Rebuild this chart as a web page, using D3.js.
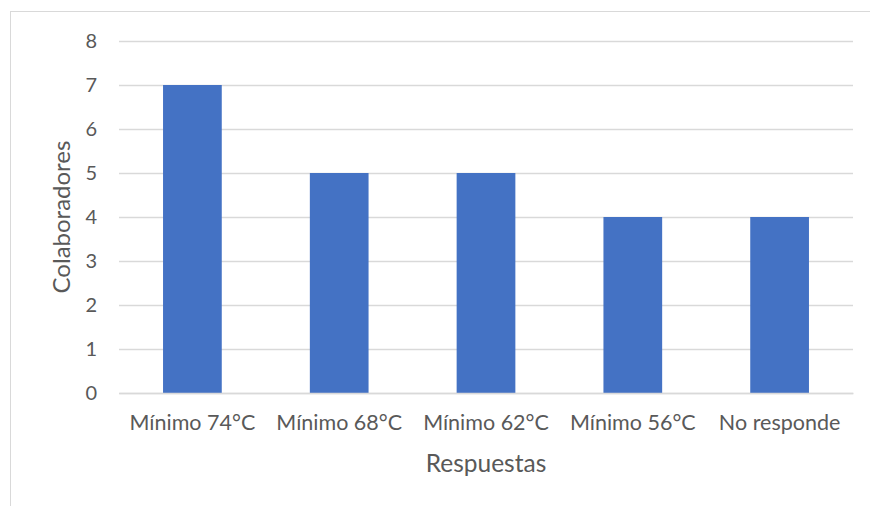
<!DOCTYPE html>
<html>
<head>
<meta charset="utf-8">
<script src="https://cdn.jsdelivr.net/npm/d3@7"></script>
<style>
  html, body { margin: 0; padding: 0; background: #fff; }
  svg { display: block; }
  text { font-family: Lato, "Open Sans", sans-serif; fill: #595959; }
</style>
</head>
<body>
<svg id="chart" width="870" height="506"></svg>
<script>
const categories = ["Mínimo 74°C", "Mínimo 68°C", "Mínimo 62°C", "Mínimo 56°C", "No responde"];
const values = [7, 5, 5, 4, 4];
const yTicks = [0, 1, 2, 3, 4, 5, 6, 7, 8];
const xTitle = "Respuestas";
const yTitle = "Colaboradores";

const svg = d3.select("#chart");
const W = 870, H = 506;
const plot = { left: 119, right: 853, top: 41, bottom: 393 };
const font = "Lato, 'Open Sans', sans-serif";

// chart frame
svg.append("rect")
  .attr("x", 10.5).attr("y", 11.5)
  .attr("width", W).attr("height", H)
  .attr("fill", "none").attr("stroke", "#d9d9d9").attr("stroke-width", 1);

const x = d3.scaleBand()
  .domain(categories)
  .range([plot.left, plot.right])
  .paddingInner(0.6)
  .paddingOuter(0.3);

const y = d3.scaleLinear()
  .domain([0, 8])
  .range([plot.bottom, plot.top]);

// gridlines + y tick labels
const yAxis = d3.axisLeft(y)
  .tickValues(yTicks)
  .tickSize(-(plot.right - plot.left))
  .tickPadding(22)
  .tickFormat(d3.format("d"));

const gy = svg.append("g")
  .attr("transform", `translate(${plot.left},0)`)
  .call(yAxis);
gy.select(".domain").remove();
gy.selectAll(".tick line").attr("stroke", "#d9d9d9").attr("stroke-width", 1.3);
gy.selectAll(".tick text")
  .attr("font-size", 20)
  .attr("fill", "#595959")
  .style("font-family", font);

// bars
svg.append("g").selectAll("rect")
  .data(values)
  .join("rect")
  .attr("x", (d, i) => x(categories[i]))
  .attr("y", d => y(d))
  .attr("width", x.bandwidth())
  .attr("height", d => y(0) - y(d))
  .attr("fill", "#4472c4");

// x axis line + labels
const xAxis = d3.axisBottom(x).tickSize(0);
const gx = svg.append("g")
  .attr("transform", `translate(0,${plot.bottom})`)
  .call(xAxis);
gx.select(".domain").attr("stroke", "#d9d9d9").attr("stroke-width", 1.5);
gx.selectAll(".tick text")
  .attr("y", 37)
  .attr("dy", 0)
  .attr("font-size", 21.5)
  .attr("fill", "#595959")
  .style("font-family", font);

// axis titles
svg.append("text")
  .attr("x", (plot.left + plot.right) / 2)
  .attr("y", 472)
  .attr("text-anchor", "middle")
  .attr("font-size", 24.5)
  .text(xTitle);

svg.append("text")
  .attr("transform", `translate(70,${(plot.top + plot.bottom) / 2}) rotate(-90)`)
  .attr("text-anchor", "middle")
  .attr("font-size", 24)
  .text(yTitle);
</script>
</body>
</html>
